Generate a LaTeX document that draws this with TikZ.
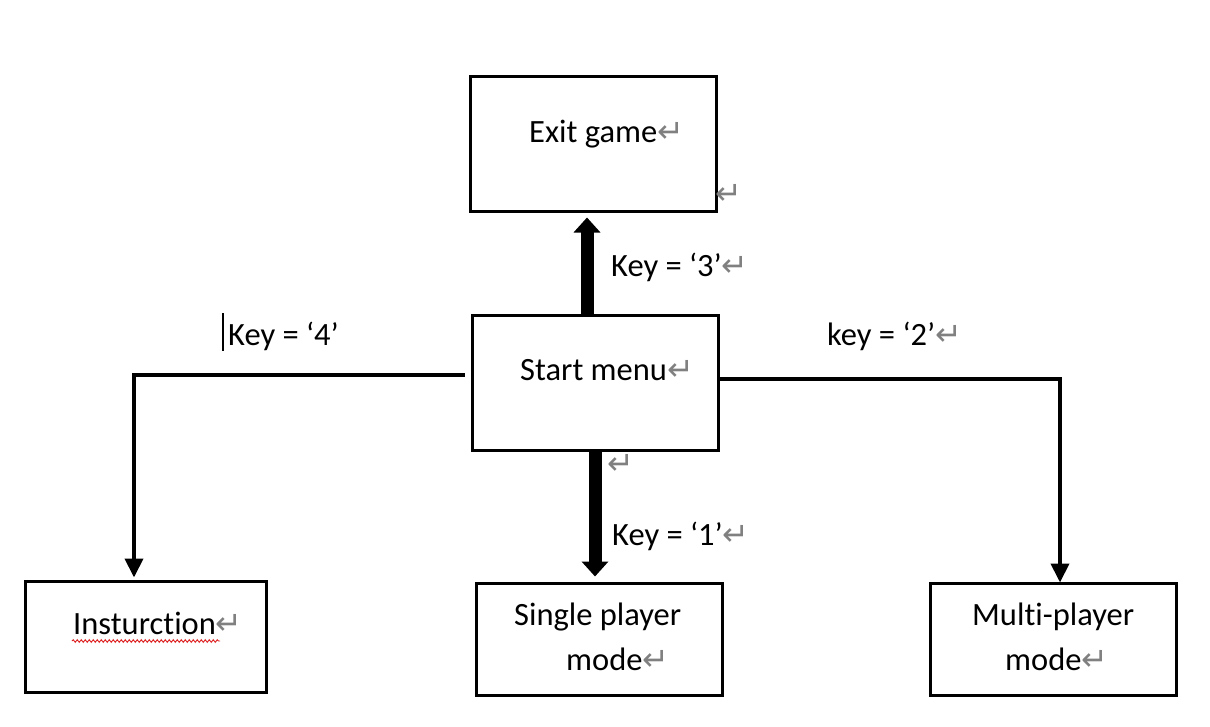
\documentclass[tikz,border=0pt]{standalone}
\usepackage{fontspec}
\setmainfont{Carlito}[Ligatures=NoCommon]
\newfontfamily\symfam{DejaVu Sans}
\usetikzlibrary{arrows.meta,decorations.pathmorphing}
\definecolor{retgray}{RGB}{128,128,128}
\definecolor{spellred}{RGB}{220,30,30}
\newcommand{\retmark}{{\symfam\fontsize{32}{32}\selectfont\color{retgray}↵}}
\begin{document}
\begin{tikzpicture}[x=1pt,y=-1pt,
  box/.style={draw, line width=3pt, rectangle, inner sep=0pt},
  txt/.style={anchor=base west, inner sep=0pt, font=\fontsize{32.5}{39}\selectfont},
  thickarrow/.style={line width=13pt, -{Triangle[width=26pt,length=15pt]}},
  thinarrow/.style={line width=4pt, -{Triangle[width=18pt,length=19pt]}}]
\useasboundingbox (0,0) rectangle (1210,726);
% boxes
\node[box, minimum width=246pt, minimum height=135pt] (exit) at (593,143.5) {};
\node[box, minimum width=246pt, minimum height=135pt] (start) at (595,382.5) {};
\node[box, minimum width=241pt, minimum height=111pt] (instr) at (145.5,636.5) {};
\node[box, minimum width=246pt, minimum height=112pt] (single) at (599,639) {};
\node[box, minimum width=246pt, minimum height=112pt] (multi) at (1053,639) {};
% box texts
\node[txt] (exittxt) at (529,142) {Exit game\retmark};
\node[txt] (starttxt) at (520,380) {Start menu\retmark};
\node[txt] (instrtxt) at (73,634) {Insturction\retmark};
\node[txt] (singletxt1) at (514,625) {Single player};
\node[txt] (singletxt2) at (566,670) {mode\retmark};
\node[txt] (multitxt1) at (972,625) {Multi-player};
\node[txt] (multitxt2) at (1005,670) {mode\retmark};
% stray paragraph marks
\node[anchor=center, inner sep=0pt] (ret1) at (729,194) {\retmark};
\node[anchor=center, inner sep=0pt] (ret2) at (621,464) {\retmark};
% connectors
\draw[thickarrow, shorten >=5pt] ([xshift=-8pt]start.north) -- ([xshift=-6pt]exit.south);
\draw[thickarrow, shorten >=5pt] (start.south) -- ([xshift=-4pt]single.north);
\coordinate (ly) at (0,375);
\coordinate (ry) at (0,379);
\draw[thinarrow, shorten <=6pt, shorten >=2pt] (start.west |- ly) -| ([xshift=-11.5pt]instr.north);
\draw[thinarrow, shorten >=-1pt] (start.east |- ry) -| ([xshift=7pt]multi.north);
% labels
\node[txt] (k3) at (611,276) {Key = ‘3’\retmark};
\node[txt] (k4) at (228,345) {Key = ‘4’};
\node[txt] (k2) at (827,345) {key = ‘2’\retmark};
\node[txt] (k1) at (612,545) {Key = ‘1’\retmark};
% editor artefacts
\draw[line width=1.3pt] (223,313) -- (223,351);
\draw[spellred, line width=0.9pt, decorate, decoration={snake, amplitude=1.3pt, segment length=4pt}] (72,641) -- (220,641);
\end{tikzpicture}
\end{document}
